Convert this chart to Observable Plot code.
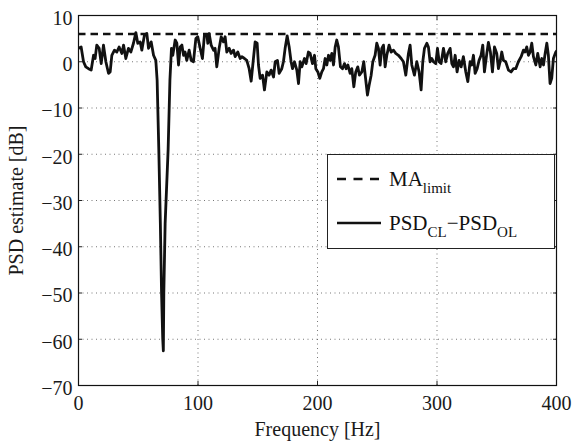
<!DOCTYPE html>
<html>
<head>
<meta charset="utf-8">
<script src="https://cdn.jsdelivr.net/npm/d3@7"></script>
<script src="https://cdn.jsdelivr.net/npm/@observablehq/plot@0.6"></script>
<style>
  html, body { margin: 0; padding: 0; background: #fff; }
  #wrap { position: relative; width: 573px; height: 441px; overflow: hidden; }
  #wrap svg text { font-family: 'Liberation Serif', 'Times New Roman', serif; }
  #legend { position: absolute; box-sizing: border-box; left: 327px; top: 154px; width: 228px; height: 95px;
            border: 1.3px solid #222; background: #fff; font-family: 'Liberation Serif', 'Times New Roman', serif; color: #111; }
  .row { position: absolute; left: 0; height: 30px; }
  .row svg { position: absolute; left: 8px; top: 0; }
  .lab { position: absolute; left: 61px; top: 2px; font-size: 21px; white-space: nowrap; line-height: 21px; }
  .lab sub { font-size: 15px; vertical-align: -7px; line-height: 0; }
</style>
</head>
<body>
<div id="wrap"></div>
<script>
// Frequency axis values [Hz]
const freq = [
  0, 2.2, 4.2, 6.1, 8.4, 10.6, 12.6, 13.9, 15.3, 17.3, 19.0, 20.9, 22.9, 25.1, 26.5, 27.9, 30.1, 32.1, 34.0, 36.3,
  37.7, 39.6, 41.8, 43.8, 46.0, 48.0, 49.6, 51.6, 53.0, 55.2, 57.2, 58.6, 60.8, 62.8, 64.7,
  65.8, 67.2, 68.5, 69.5, 70.5, 71.0, 71.4, 72.5, 75.0, 76.5,
  77.8, 78.9, 80.9, 82.3, 83.7, 85.1, 86.5, 87.9, 89.2, 90.6, 92.6, 94.3, 96.2, 98.2, 99.8, 101.8, 103.7, 105.4, 107.4, 108.2,
  109.3, 111.0, 113.0, 114.3, 115.7, 117.7, 119.4, 121.3, 122.7, 124.1, 126.1, 127.7, 129.7, 131.1, 133.3, 135.3, 136.7, 138.9,
  140.8, 142.8, 144.5, 146.4, 147.8, 149.5, 150.6, 152.0, 154.0, 155.6, 157.6, 159.5, 161.2, 163.2, 164.6, 166.5, 167.9, 170.1,
  171.5, 172.9, 174.6, 176.3, 177.9, 179.1, 180.7, 182.7, 184.1, 185.5, 186.9, 189.1, 190.5, 192.4, 193.8, 195.8, 197.5, 198.6,
  200.3, 201.9, 203.6, 205.0, 206.4, 207.8, 209.2, 210.6, 212.0, 213.4, 214.8, 216.1, 217.5, 219.2, 220.9, 222.6, 224.0, 225.4,
  227.3, 228.7, 230.4, 232.0, 233.7, 235.1, 237.1, 238.7, 240.4, 241.8, 243.2, 244.9, 246.3, 248.2, 249.6, 251.0, 252.4, 253.8,
  255.2, 256.6, 258.0, 259.9, 261.6, 263.6, 265.5, 267.7, 270.0, 271.9, 273.9, 276.1, 277.5, 278.9, 281.1, 283.1, 285.0, 286.7,
  288.1, 289.5, 291.5, 292.8, 294.2, 295.6, 297.0, 299.0,
  300.4, 301.8, 303.4, 305.4, 307.3, 309.0, 311.0, 312.4, 313.8, 315.2, 316.8, 318.5, 320.2, 322.1, 324.1, 325.8, 327.7, 329.1,
  330.5, 331.9, 333.6, 335.2, 336.9, 338.3, 339.7, 341.7, 343.0, 344.7, 346.4, 348.1, 350.0, 351.4, 352.8, 354.2, 355.6, 357.5,
  359.8, 362.0, 364.0, 365.9, 368.1, 370.4, 372.3, 373.7, 375.1, 376.5, 377.9, 379.3, 380.7, 382.7, 384.3, 386.3, 387.7, 389.1,
  390.5, 391.9, 393.2, 394.6, 396.0, 397.4, 399.4, 400
];
// PSD_CL - PSD_OL [dB]
const psdDiff = [
  2.9, 3.2, 0.0, -1.1, -1.5, -1.8, 1.4, 0.7, 3.6, 2.9, -0.4, 3.6, 0.0, -2.5, -2.2, 1.4, 2.5, 2.1, 3.2, 1.8,
  3.6, 0.7, 2.9, 2.1, 4.0, 6.3, 4.0, 4.3, 2.5, 5.8, 6.1, 2.9, 4.3, 1.4, 0.3,
  -4, -19, -35, -50, -60, -62.5, -50, -35, -19, -4,
  2.9, 1.4, 4.7, 4.0, -0.7, 3.2, 3.6, 1.4, 2.1, 0.3, 2.5, 0.3, 0.0, 5.0, 5.4, 2.9, 0.7, 5.8, 5.9, 4.0,
  6.1, 3.6, 2.5, 2.9, -1.1, 2.9, 5.4, 4.3, 5.4, 2.1, 2.9, 1.8, 2.5, 1.1, 2.1, 0.7, 1.1, 0.7,
  0.3, -1.5, -4.2, 0.7, 4.3, 4.0, -0.7, -3.6, -2.9, -6.1, -2.2, -2.9, -1.8, -3.3, 0.0, 0.3, -2.5, -1.5,
  0.0, 2.9, 5.6, 3.2, 0.0, -1.5, 0.0, -1.8, -4.7, 0.0, -1.1, 0.7, -0.4, 2.1, 1.8, -0.4, 1.4, -1.5,
  -2.2, -3.6, -2.2, -1.5, 0.7, -0.7, 1.4, 0.3, 1.8, -0.7, 3.2, 4.7, 3.2, -1.1, -1.5, -0.4, -1.5, -0.7,
  -2.5, -1.5, -5.4, -2.2, -1.1, -2.9, -2.2, 0.0, -4.0, -7.2, -5.1, -2.9, 0.0, 1.4, 4.0, 2.9, -0.7, 2.9,
  3.6, -1.1, 1.4, 3.6, 2.1, 2.5, 1.8, 1.4, 0.7, 0.0, -2.9, 1.8, 3.6, -0.7, -2.9, 0.0, -2.2, -6.1,
  0.0, 2.9, 4.0, 3.2, 0.0, 0.7, 0.0, -0.4,
  2.9, 0.0, -0.4, 2.9, 0.0, 1.8, 2.9, -0.4, -1.1, 1.4, -2.2, 0.3, -1.1, 1.1, -2.2, -4.3, 0.0, -0.7,
  1.4, -2.5, -1.5, 0.3, 1.4, 3.6, -2.2, 1.8, 4.2, 2.1, -2.2, 3.2, 1.8, -1.5, 0.0, 2.1, 0.3, 0.0,
  -1.8, -2.2, -1.5, -1.5, 0.0, 1.1, 2.5, 2.1, 3.2, 1.4, 2.1, 4.0, 1.1, -0.7, 1.8, -1.1, 0.7, -0.7,
  1.8, 4.0, 1.4, -4.7, -3.6, 0.7, 2.1, 2.3
];
const maLimit = [6];
const xTicks = [0, 100, 200, 300, 400];
const yTicks = [-70, -60, -50, -40, -30, -20, -10, 0, 10];
const xLabel = "Frequency [Hz]";
const yLabel = "PSD estimate [dB]";
const legendLabels = [["MA", "limit"], ["PSD", "CL", "\u2212PSD", "OL"]];

const data = freq.map((f, i) => ({f, v: psdDiff[i]}));
const fmt = d => d < 0 ? "\u2212" + (-d) : String(d);
const none = () => "";
const serif = "'Liberation Serif', 'Times New Roman', serif";

const chart = Plot.plot({
  width: 573, height: 441,
  marginLeft: 78, marginRight: 17, marginTop: 15, marginBottom: 56,
  style: {fontFamily: serif, fontSize: "20px", color: "#1a1a1a", background: "#fff", overflow: "visible"},
  x: {domain: [0, 400]},
  y: {domain: [-70, 10]},
  marks: [
    Plot.gridX(xTicks.slice(1, -1), {stroke: "#555", strokeOpacity: 0.8, strokeDasharray: "1,3.5", strokeWidth: 1}),
    Plot.gridY(yTicks.slice(1, -1), {stroke: "#555", strokeOpacity: 0.8, strokeDasharray: "1,3.5", strokeWidth: 1}),
    Plot.ruleY(maLimit, {stroke: "#111", strokeWidth: 2.6, strokeDasharray: "7.5,5"}),
    Plot.line(data, {x: "f", y: "v", stroke: "#111", strokeWidth: 2.8, strokeLinejoin: "round", clip: true}),
    Plot.axisX({anchor: "top", ticks: xTicks, tickSize: -4, tickFormat: none, label: null, stroke: "#222"}),
    Plot.axisY({anchor: "right", ticks: yTicks, tickSize: -4, tickFormat: none, label: null, stroke: "#222"}),
    Plot.axisX({anchor: "bottom", ticks: xTicks, tickSize: -4, tickFormat: none, label: null, stroke: "#222"}),
    Plot.axisY({anchor: "left", ticks: yTicks, tickSize: -4, tickFormat: none, label: null, stroke: "#222"}),
    Plot.frame({stroke: "#111", strokeWidth: 1.2}),
    Plot.axisX({ticks: xTicks, tickSize: 0, tickPadding: 10, tickFormat: fmt, fontFamily: serif,
      label: xLabel, labelAnchor: "center", labelOffset: 50, labelArrow: false, fontSize: 20}),
    Plot.axisY({ticks: yTicks, tickSize: 0, tickPadding: 6, tickFormat: fmt, dy: 3, fontFamily: serif,
      label: yLabel, labelAnchor: "center", labelOffset: 70, labelArrow: false, fontSize: 20})
  ]
});
const wrap = document.getElementById("wrap");
wrap.appendChild(chart);

// legend
const leg = document.createElement("div");
leg.id = "legend";
const rows = [
  {top: 12, dash: "9,7.5", html: `${legendLabels[0][0]}<sub>${legendLabels[0][1]}</sub>`},
  {top: 56, dash: null, html: `${legendLabels[1][0]}<sub>${legendLabels[1][1]}</sub>${legendLabels[1][2]}<sub>${legendLabels[1][3]}</sub>`}
];
for (const r of rows) {
  const row = document.createElement("div");
  row.className = "row";
  row.style.top = r.top + "px";
  row.style.width = "100%";
  row.innerHTML = `<svg width="46" height="24"><line x1="1" x2="45" y1="12" y2="12" stroke="#111" stroke-width="2.6" ${r.dash ? `stroke-dasharray="${r.dash}"` : ""}/></svg><span class="lab">${r.html}</span>`;
  leg.appendChild(row);
}
wrap.appendChild(leg);
</script>
</body>
</html>
